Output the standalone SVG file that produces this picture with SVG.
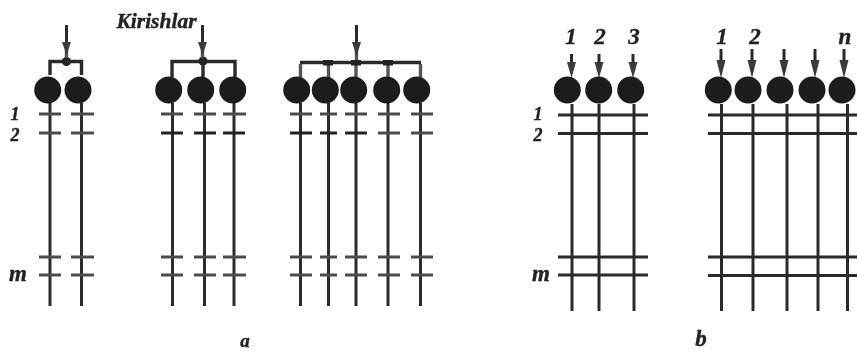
<svg xmlns="http://www.w3.org/2000/svg" width="857" height="352" viewBox="0 0 857 352">
<style>
.bg{fill:#fff}
.ball{fill:#1c1c1c}
.v{stroke:#2c2c2c;stroke-width:3;fill:none}
.d{stroke:#4c4c4c;stroke-width:3.200;fill:none}
.s{stroke:#222;stroke-width:3;fill:none}
.h{stroke:#2c2c2c;stroke-width:2.800;fill:none}
.bus{stroke:#2c2c2c;stroke-width:3.400;fill:none}
.dr{stroke:#555;stroke-width:3.400;fill:none}
.head{fill:#3a3a3a}
text{font-family:"Liberation Serif","Times New Roman",serif;font-style:italic;font-weight:bold;fill:#222;stroke:#222;stroke-width:.4px;font-size:23px;text-anchor:middle}
text.side{font-size:18px}
</style>
<defs>
<filter id="soft" x="-2%" y="-2%" width="104%" height="104%"><feGaussianBlur stdDeviation="0.55"/></filter>
</defs>
<rect class="bg" width="857" height="352"/>
<g filter="url(#soft)">
<g id="connectors">
<g id="group-a-columns" class="v">
<path d="M50 103V306M81.500 103V306M172.500 103V306M204.500 103V306M234 103V306M300.500 103V306M328.500 103V306M356 103V306M388 103V306M420.500 103V306"/>
</g>
<g id="group-a-beams" class="d">
<path d="M39 114H61M71 114H94M161 114H183M194 114H216M223 114H246M290 114H312M320 114H337M345 114H367M378 114H400M411 114H433"/>
<path d="M39 133H61M71 133H94M378 133H400M411 133H433"/>
<path class="s" d="M161 133H183M194 133H216M223 133H245M290 133H312M320 133H337M345 133H367"/>
<path d="M39 257H61M71 257H94M161 257H183M194 257H216M223 257H246M290 257H312M320 257H337M345 257H367M378 257H400M411 257H433"/>
<path d="M39 275H61M71 275H94M161 275H183M194 275H216M223 275H246M290 275H312M320 275H337M345 275H367M378 275H400M411 275H433"/>
</g>
<g id="group-a-load">
<path class="bus" d="M50 75V61.500H81.500V75M172 77V61.500H235V77M203 61.500V77"/>
<path class="bus" d="M300 62.500H421"/>
<path class="dr" d="M300.500 64V78M328.500 64V78M356 64V78M388 64V78M420.500 64V78"/>
<path d="M323 60H333V65.500H323ZM351 60H361V65.500H351ZM383 60H393V65.500H383Z" fill="#222"/>
<circle cx="66.500" cy="61.500" r="4.500" fill="#222"/>
<circle cx="203" cy="61" r="4.500" fill="#222"/>
<path class="v" d="M66.500 25V44M202.500 25V44M356.500 25V44"/>
<path class="dr" d="M66.500 50V58M202.500 50V58M356.500 50V60"/>
<path class="head" d="M62 42H71L66.500 55ZM198 42H207L202.500 55ZM352 42H361L356.500 56Z"/>
</g>
<g id="group-b-columns" class="v">
<path d="M572 104V311M599 104V311M634 104V311M721.500 104V311M753 104V311M787 104V311M818 104V311M847.500 104V311"/>
</g>
<g id="group-b-beams" class="h">
<path d="M558 115H648M558 133.500H648M558 257H648M558 275H648"/>
<path d="M708 115H857M708 133.500H857M708 257H857M708 275.500H857"/>
</g>
<g id="group-b-load" class="v">
<path d="M571.500 54V70M599 54V70M633 54V70M721 49V70M752 49V70M784 49V70M815 49V70M844 49V70"/>
</g>
<path class="head" d="M567 62H576L571.500 78ZM594.500 62H603.500L599 78ZM628.500 62H637.500L633 78ZM716.500 60H725.500L721 78ZM747.500 60H756.500L752 78ZM779.500 60H788.500L784 78ZM810.500 60H819.500L815 78ZM839.500 60H848.500L844 78Z"/>
</g>
<g id="node-a1"><circle class="ball" cx="47.700" cy="90" r="13.500"/></g>
<g id="node-a2"><circle class="ball" cx="78" cy="90" r="13.500"/></g>
<g id="node-a3"><circle class="ball" cx="168.700" cy="90" r="13.500"/></g>
<g id="node-a4"><circle class="ball" cx="200.700" cy="90" r="13.500"/></g>
<g id="node-a5"><circle class="ball" cx="232.700" cy="90" r="13.500"/></g>
<g id="node-a6"><circle class="ball" cx="296.700" cy="90" r="13.500"/></g>
<g id="node-a7"><circle class="ball" cx="325.300" cy="90" r="13.500"/></g>
<g id="node-a8"><circle class="ball" cx="353.700" cy="90" r="13.500"/></g>
<g id="node-a9"><circle class="ball" cx="386.700" cy="90" r="13.500"/></g>
<g id="node-a10"><circle class="ball" cx="416.700" cy="90" r="13.500"/></g>
<g id="node-b1"><circle class="ball" cx="567.300" cy="90" r="13.500"/></g>
<g id="node-b2"><circle class="ball" cx="598.700" cy="90" r="13.500"/></g>
<g id="node-b3"><circle class="ball" cx="630.700" cy="90" r="13.500"/></g>
<g id="node-b4"><circle class="ball" cx="718.300" cy="90" r="13.500"/></g>
<g id="node-b5"><circle class="ball" cx="748" cy="90" r="13.500"/></g>
<g id="node-b6"><circle class="ball" cx="780" cy="90" r="13.500"/></g>
<g id="node-b7"><circle class="ball" cx="812" cy="90" r="13.500"/></g>
<g id="node-b8"><circle class="ball" cx="842" cy="90" r="13.500"/></g>
<g id="labels">
<text x="156.500" y="28" style="font-size:21.500px">Kirishlar</text>
<text class="side" x="15" y="120">1</text><text class="side" x="15" y="141">2</text><text x="18" y="281">m</text>
<text class="side" x="538" y="120">1</text><text class="side" x="538" y="141">2</text><text x="541" y="281">m</text>
<text x="571" y="44">1</text><text x="600" y="44">2</text><text x="634" y="44">3</text>
<text x="722" y="44">1</text><text x="755" y="44">2</text><text x="845" y="44">n</text>
<text x="245" y="347" style="font-size:19px">a</text>
<text x="701" y="346">b</text>
</g>
</g>
</svg>
